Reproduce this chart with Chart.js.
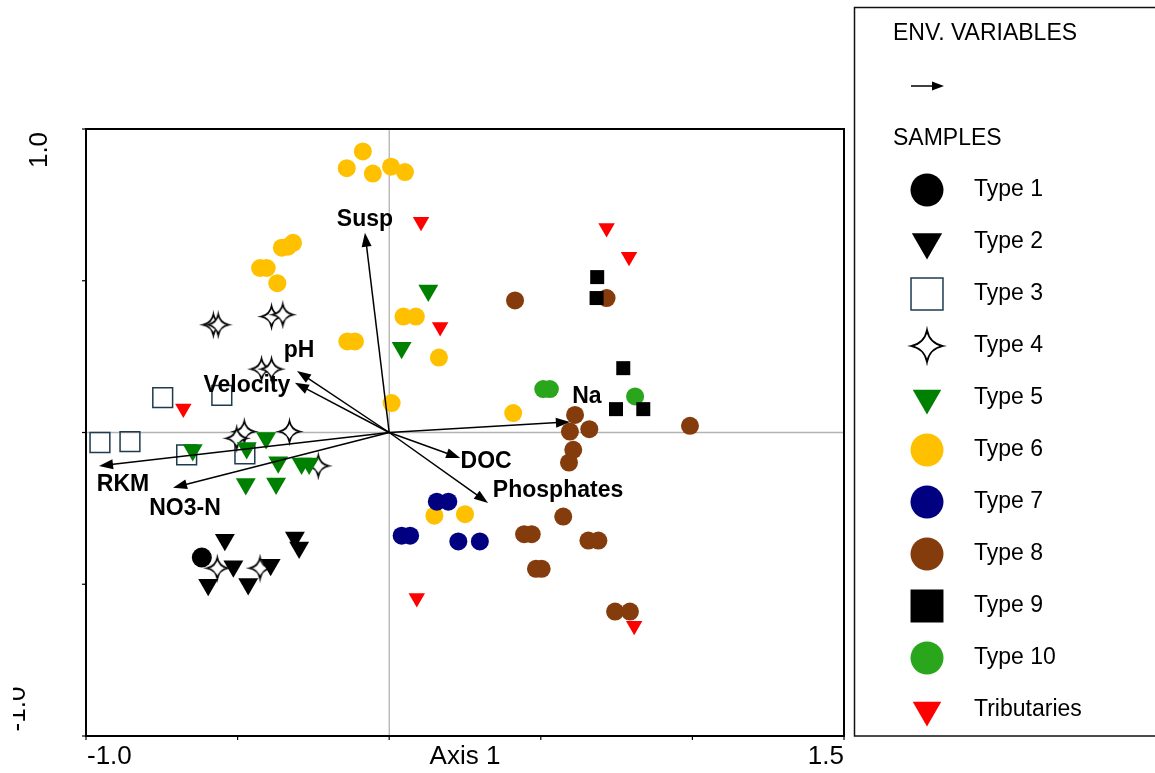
<!DOCTYPE html>
<html><head><meta charset="utf-8">
<script src="https://cdn.jsdelivr.net/npm/chart.js@4/dist/chart.umd.min.js"></script>
<style>html,body{margin:0;padding:0;background:#fff;overflow:hidden}#wrap{width:1155px;height:773px;position:relative}</style>
</head><body><div id="wrap"><canvas id="c" width="1155" height="773"></canvas></div>
<script>
// ---------- data ----------
const type1X = [-0.618];
const type1Y = [-0.412];
const type2X = [-0.542,-0.311,-0.297,-0.514,-0.391,-0.597,-0.465];
const type2Y = [-0.353,-0.346,-0.379,-0.441,-0.436,-0.502,-0.499];
const type3X = [-0.747,-0.552,-0.954,-0.855,-0.668,-0.476];
const type3Y = [0.115,0.122,-0.033,-0.030,-0.074,-0.070];
const type4X = [-0.580,-0.564,-0.388,-0.351,-0.421,-0.388,-0.478,-0.503,-0.329,-0.234,-0.567,-0.426];
const type4Y = [0.355,0.355,0.382,0.388,0.209,0.209,0.003,-0.019,0.003,-0.110,-0.447,-0.447];
const type5X = [0.129,0.041,-0.648,-0.470,-0.406,-0.366,-0.289,-0.264,-0.473,-0.373];
const type5Y = [0.468,0.279,-0.058,-0.051,-0.018,-0.098,-0.102,-0.102,-0.170,-0.168];
const type6X = [-0.087,-0.140,-0.054,0.006,0.052,-0.354,-0.334,-0.317,-0.426,-0.404,-0.369,-0.138,-0.113,0.008,0.047,0.088,0.164,0.409,0.149,0.250];
const type6Y = [0.926,0.871,0.853,0.876,0.858,0.609,0.612,0.625,0.542,0.542,0.492,0.300,0.300,0.097,0.382,0.382,0.247,0.064,-0.274,-0.269];
const type7X = [0.157,0.195,0.041,0.069,0.228,0.299];
const type7Y = [-0.228,-0.228,-0.340,-0.340,-0.359,-0.359];
const type8X = [0.415,0.717,0.613,0.660,0.596,0.992,0.607,0.593,0.574,0.445,0.470,0.657,0.690,0.484,0.503,0.745,0.794];
const type8Y = [0.435,0.443,0.058,0.011,0.003,0.022,-0.057,-0.099,-0.277,-0.335,-0.335,-0.356,-0.356,-0.449,-0.449,-0.590,-0.590];
const type9X = [0.686,0.684,0.772,0.748,0.838];
const type9Y = [0.512,0.443,0.212,0.077,0.077];
const type10X = [0.508,0.530,0.811];
const type10Y = [0.143,0.143,0.119];
const tribX = [0.105,0.717,0.791,0.168,0.091,0.808,-0.679];
const tribY = [0.694,0.674,0.579,0.348,-0.545,-0.637,0.079];

const envNames = ['Susp','pH','Velocity','RKM','NO3-N','Na','DOC','Phosphates'];
const envX = [-0.080,-0.304,-0.311,-0.957,-0.713,0.596,0.234,0.326];
const envY = [0.658,0.203,0.164,-0.110,-0.182,0.035,-0.084,-0.232];

const xTickValues = [-1.0,-0.5,0,0.5,1.0,1.5];
const yTickValues = [-1.0,-0.5,0,0.5,1.0];
const xTickLabels = {'-1': '-1.0', '1.5': '1.5'};
const yTickLabels = {'1': '1.0', '-1': '-1.0'};
const xAxisTitle = 'Axis 1';
const legendHeader1 = 'ENV. VARIABLES';
const legendHeader2 = 'SAMPLES';

// ---------- styles ----------
const FONT = "'Liberation Sans', Arial, Helvetica, sans-serif";
// label offsets in pixels from arrow tip
const envLabelOffset = [[0,-13],[2,-20],[-48,3],[24,19],[12,21],[17,-25],[26,4],[70,-12]];

function makeStar(R, lw) {
  const s = Math.ceil(2*R + 2*lw + 4);
  const c = document.createElement('canvas'); c.width = s; c.height = s;
  const g = c.getContext('2d'); const cx = s/2, cy = s/2, k = R*0.16;
  g.beginPath();
  g.moveTo(cx, cy-R);
  g.quadraticCurveTo(cx+k, cy-k, cx+R, cy);
  g.quadraticCurveTo(cx+k, cy+k, cx, cy+R);
  g.quadraticCurveTo(cx-k, cy+k, cx-R, cy);
  g.quadraticCurveTo(cx-k, cy-k, cx, cy-R);
  g.closePath();
  g.fillStyle = '#fff'; g.fill();
  g.lineWidth = lw; g.strokeStyle = '#000'; g.lineJoin = 'miter'; g.stroke();
  return c;
}
const starSmall = makeStar(10.5, 1.6);
const starBig = makeStar(16, 1.7);

function pts(xs, ys){ return xs.map((x,i)=>({x:x, y:ys[i]})); }

const defs = [
  {label:'Type 1', d:pts(type1X,type1Y), ps:'circle', fill:'#000000', r:10, lr:16.5, z:4},
  {label:'Type 2', d:pts(type2X,type2Y), ps:'triangle', rot:180, fill:'#000000', r:11.5, lr:17.5, z:2},
  {label:'Type 3', d:pts(type3X,type3Y), ps:'rect', fill:'rgba(255,255,255,0)', stroke:'#1f3b4d', bw:1.5, r:14, lr:22.6, z:11},
  {label:'Type 4', d:pts(type4X,type4Y), ps:starSmall, lps:starBig, fill:'#fff', r:11, lr:16, z:10},
  {label:'Type 5', d:pts(type5X,type5Y), ps:'triangle', rot:180, fill:'#008000', r:11.5, lr:16.5, z:1},
  {label:'Type 6', d:pts(type6X,type6Y), ps:'circle', fill:'#FFC000', r:9, lr:16.5, z:9},
  {label:'Type 7', d:pts(type7X,type7Y), ps:'circle', fill:'#000080', r:9, lr:16.5, z:8},
  {label:'Type 8', d:pts(type8X,type8Y), ps:'circle', fill:'#843C0C', r:9, lr:16.5, z:7},
  {label:'Type 9', d:pts(type9X,type9Y), ps:'rect', fill:'#000000', r:9.9, lr:23.3, z:5},
  {label:'Type 10', d:pts(type10X,type10Y), ps:'circle', fill:'#29A61C', r:9, lr:16.5, z:6},
  {label:'Tributaries', d:pts(tribX,tribY), ps:'triangle', rot:180, fill:'#FF0000', r:9.5, lr:16.5, z:0},
];

const datasets = defs.map(s => ({
  label: s.label, data: s.d, order: s.z,
  pointStyle: s.ps, pointRotation: s.rot || 0, pointRadius: s.r, pointHoverRadius: s.r,
  backgroundColor: s.fill, borderColor: s.stroke || s.fill, borderWidth: s.bw || 0,
  showLine: false
}));

function arrow(ctx, x0, y0, x1, y1, len, half) {
  const a = Math.atan2(y1-y0, x1-x0);
  const bx = x1 - len*Math.cos(a), by = y1 - len*Math.sin(a);
  ctx.beginPath(); ctx.moveTo(x0,y0); ctx.lineTo(bx + 2*Math.cos(a), by + 2*Math.sin(a)); ctx.stroke();
  ctx.beginPath(); ctx.moveTo(x1,y1);
  ctx.lineTo(bx + half*Math.sin(a), by - half*Math.cos(a));
  ctx.lineTo(bx - half*Math.sin(a), by + half*Math.cos(a));
  ctx.closePath(); ctx.fill();
}

function legendMarker(ctx, s, x, y) {
  ctx.save();
  ctx.fillStyle = s.fill; ctx.strokeStyle = s.stroke || s.fill; ctx.lineWidth = s.bw || 0;
  const r = s.lr;
  if (s.lps) { ctx.drawImage(s.lps, x - s.lps.width/2, y - s.lps.height/2); ctx.restore(); return; }
  ctx.beginPath();
  if (s.ps === 'circle') { ctx.arc(x, y, r, 0, Math.PI*2); }
  else if (s.ps === 'rect') { const h = r*Math.SQRT1_2; ctx.rect(x-h, y-h, 2*h, 2*h); }
  else if (s.ps === 'triangle') {
    let a = Math.PI;
    for (let i=0;i<3;i++){ const px = x + Math.sin(a)*r, py = y - Math.cos(a)*r; i? ctx.lineTo(px,py): ctx.moveTo(px,py); a += 2*Math.PI/3; }
    ctx.closePath();
  }
  ctx.fill(); if (s.bw) ctx.stroke();
  ctx.restore();
}

const bgPlugin = {
  id:'bg',
  beforeDraw(chart){ const c=chart.ctx; c.save(); c.fillStyle='#fff'; c.fillRect(0,0,chart.width,chart.height); c.restore(); },
  beforeDatasetsDraw(chart){
    const c = chart.ctx, xs = chart.scales.x, ys = chart.scales.y, a = chart.chartArea;
    c.save();
    c.strokeStyle = '#b4b4b4'; c.lineWidth = 1.5;
    const y0 = ys.getPixelForValue(0), x0 = xs.getPixelForValue(0);
    c.beginPath(); c.moveTo(a.left, y0); c.lineTo(a.right, y0); c.stroke();
    c.strokeStyle = '#9a9a9a'; c.lineWidth = 1;
    c.beginPath(); c.moveTo(x0, a.top); c.lineTo(x0, a.bottom); c.stroke();
    c.restore();
  },
  afterDatasetsDraw(chart){
    const c = chart.ctx, xs = chart.scales.x, ys = chart.scales.y, a = chart.chartArea;
    const ox = xs.getPixelForValue(0), oy = ys.getPixelForValue(0);
    c.save();
    c.strokeStyle = '#000'; c.fillStyle = '#000'; c.lineWidth = 1.5;
    envNames.forEach((n,i)=>{
      const tx = xs.getPixelForValue(envX[i]), ty = ys.getPixelForValue(envY[i]);
      arrow(c, ox, oy, tx, ty, 14, 5);
    });
    c.font = 'bold 23px ' + FONT; c.textAlign = 'center'; c.textBaseline = 'middle';
    envNames.forEach((n,i)=>{
      const tx = xs.getPixelForValue(envX[i]), ty = ys.getPixelForValue(envY[i]);
      c.fillText(n, tx + envLabelOffset[i][0], ty + envLabelOffset[i][1]);
    });
    // frame
    c.lineWidth = 2; c.strokeStyle = '#000';
    c.strokeRect(a.left, a.top, a.right - a.left, a.bottom - a.top);
    // ticks
    c.lineWidth = 1.2;
    xTickValues.forEach(v=>{ const px = xs.getPixelForValue(v); c.beginPath(); c.moveTo(px, a.bottom); c.lineTo(px, a.bottom+4); c.stroke(); });
    yTickValues.forEach(v=>{ const py = ys.getPixelForValue(v); c.beginPath(); c.moveTo(a.left, py); c.lineTo(a.left-4, py); c.stroke(); });
    // tick labels
    c.font = '26px ' + FONT; c.textBaseline = 'middle';
    Object.keys(xTickLabels).forEach(k=>{
      const v = parseFloat(k), px = xs.getPixelForValue(v);
      c.textAlign = v === xs.min ? 'left' : (v === xs.max ? 'right' : 'center');
      c.fillText(xTickLabels[k], px + (v === xs.min ? 1 : 0), 757);
    });
    c.textAlign = 'center';
    c.fillText(xAxisTitle, xs.getPixelForValue((xs.min + xs.max)/2), 757);
    // y labels rotated
    Object.keys(yTickLabels).forEach(k=>{
      const v = parseFloat(k);
      c.save();
      if (v < 0) { c.beginPath(); c.rect(13, 0, 100, chart.height); c.clip(); }
      const py = v > 0 ? ys.getPixelForValue(v) + 21 : ys.getPixelForValue(v) - 27;
      c.translate(v > 0 ? 47 : 25, py); c.rotate(-Math.PI/2);
      c.textAlign = 'center'; c.textBaseline = 'alphabetic';
      c.fillText(yTickLabels[k], 0, 0);
      c.restore();
    });
    // legend
    c.lineWidth = 1.5; c.strokeStyle = '#111';
    c.strokeRect(854.5, 7.5, 400, 728.5);
    c.font = '23px ' + FONT; c.textAlign = 'left'; c.textBaseline = 'middle'; c.fillStyle = '#000';
    c.fillText(legendHeader1, 893, 34);
    c.lineWidth = 1.5; c.strokeStyle = '#000';
    arrow(c, 911, 86, 944, 86, 12, 4.5);
    c.fillText(legendHeader2, 893, 139);
    chart.data.datasets.forEach((ds,i)=>{
      const y = 190 + 52*i;
      legendMarker(c, defs[i], 927, y);
      c.fillStyle = '#000';
      c.fillText(ds.label, 974, y);
    });
    c.restore();
  }
};

new Chart(document.getElementById('c'), {
  type: 'scatter',
  data: { datasets },
  options: {
    responsive: false, animation: false, devicePixelRatio: 1, events: [],
    layout: { padding: { left: 86, right: 311, top: 129, bottom: 37 } },
    scales: {
      x: { type:'linear', min:-1, max:1.5, display:false },
      y: { type:'linear', min:-1, max:1, display:false }
    },
    plugins: { legend: { display:false }, tooltip: { enabled:false } }
  },
  plugins: [bgPlugin]
});
</script>
</body></html>
